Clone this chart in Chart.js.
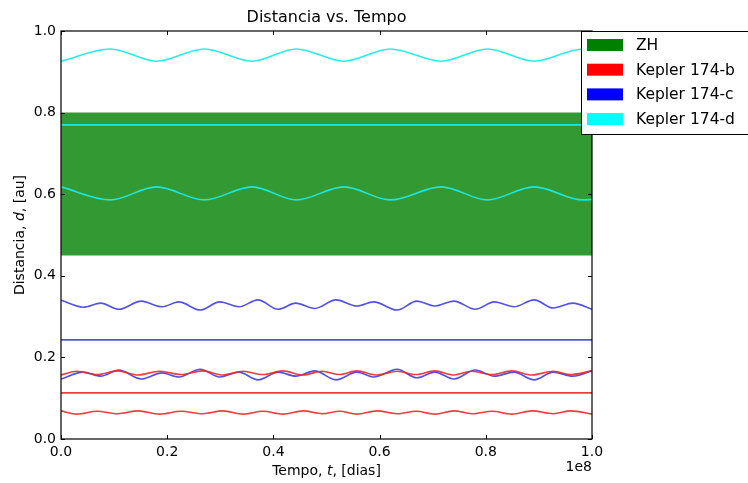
<!DOCTYPE html>
<html>
<head>
<meta charset="utf-8">
<script src="https://cdn.jsdelivr.net/npm/chart.js@4/dist/chart.umd.min.js"></script>
<style>
  body { margin: 0; background: #fff; }
  #wrap { width: 748px; height: 483px; }
</style>
</head>
<body>
<div id="wrap"><canvas id="chart" width="748" height="483"></canvas></div>
<script>
// ── data (x in units of 1e8 dias, y in au) ─────────────────────────
const xTicks = [0, 0.2, 0.4, 0.6, 0.8, 1.0];
const yTicks = [0, 0.2, 0.4, 0.6, 0.8, 1.0];

const zhInner = 0.45;
const zhOuter = 0.80;

// Kepler 174-b (red)
const xRed     = [0, 0.030, 0.068, 0.107, 0.145, 0.186, 0.226, 0.267, 0.305, 0.343, 0.380, 0.418, 0.456, 0.492,
                  0.525, 0.557, 0.595, 0.633, 0.669, 0.704, 0.740, 0.774, 0.812, 0.849, 0.887, 0.927, 0.960, 1.0];
const redLower = [0.069, 0.061, 0.068, 0.062, 0.069, 0.061, 0.068, 0.062, 0.069, 0.061, 0.068, 0.061, 0.069, 0.062,
                  0.068, 0.061, 0.069, 0.062, 0.068, 0.061, 0.069, 0.062, 0.068, 0.061, 0.069, 0.062, 0.069, 0.061];
const redUpper = [0.157, 0.166, 0.158, 0.167, 0.157, 0.166, 0.158, 0.167, 0.157, 0.166, 0.158, 0.167, 0.157, 0.166,
                  0.158, 0.167, 0.157, 0.166, 0.158, 0.167, 0.157, 0.166, 0.158, 0.167, 0.157, 0.166, 0.158, 0.167];
const redMean  = 0.113;

// Kepler 174-c (blue)
const xBlue     = [0, 0.042, 0.075, 0.109, 0.151, 0.190, 0.222, 0.262, 0.299, 0.335, 0.371, 0.409, 0.442, 0.478,
                   0.518, 0.557, 0.589, 0.633, 0.670, 0.704, 0.740, 0.780, 0.816, 0.853, 0.891, 0.927, 0.964, 1.0];
const blueLower = [0.147, 0.164, 0.154, 0.169, 0.147, 0.162, 0.152, 0.171, 0.152, 0.164, 0.145, 0.164, 0.154, 0.167,
                   0.145, 0.164, 0.152, 0.171, 0.150, 0.164, 0.147, 0.169, 0.154, 0.164, 0.145, 0.164, 0.154, 0.167];
const blueUpper = [0.340, 0.323, 0.333, 0.318, 0.338, 0.324, 0.336, 0.316, 0.336, 0.324, 0.341, 0.318, 0.333, 0.320,
                   0.341, 0.326, 0.336, 0.316, 0.338, 0.326, 0.338, 0.318, 0.336, 0.324, 0.341, 0.321, 0.333, 0.318];
const blueMean  = 0.243;

// Kepler 174-d (cyan)
const xCyan     = [0, 0.093, 0.180, 0.270, 0.360, 0.443, 0.533, 0.620, 0.716, 0.803, 0.891, 0.983, 1.0];
const cyanLower = [0.618, 0.586, 0.618, 0.586, 0.618, 0.586, 0.618, 0.586, 0.618, 0.586, 0.618, 0.586, 0.587];
const cyanUpper = [0.926, 0.956, 0.926, 0.956, 0.926, 0.956, 0.926, 0.956, 0.926, 0.956, 0.926, 0.956, 0.955];
const cyanMean  = 0.770;

// ── helpers ────────────────────────────────────────────────────────
const pts  = (xs, ys) => xs.map((x, i) => ({ x, y: ys[i] }));
const flat = v => [{ x: 0, y: v }, { x: 1, y: v }];

const RED  = 'rgba(235,40,40,0.9)';
const BLUE = 'rgba(50,50,225,0.85)';
const CYAN = 'rgba(30,235,235,0.95)';

function line(data, color) {
  return {
    data, borderColor: color, borderWidth: 1.6, pointRadius: 0,
    fill: false, cubicInterpolationMode: 'monotone', order: 1
  };
}

const FONT = '"DejaVu Sans", sans-serif';

// draw a string made of [text, italic] parts, centered at (cx, cy)
function mixedText(ctx, parts, cx, cy, size) {
  let total = 0;
  parts.forEach(p => {
    ctx.font = (p[1] ? 'italic ' : '') + size + 'px ' + FONT;
    total += ctx.measureText(p[0]).width;
  });
  let x = cx - total / 2;
  ctx.textAlign = 'left';
  ctx.textBaseline = 'middle';
  parts.forEach(p => {
    ctx.font = (p[1] ? 'italic ' : '') + size + 'px ' + FONT;
    ctx.fillText(p[0], x, cy);
    x += ctx.measureText(p[0]).width;
  });
}

// ── frame, inward ticks, titles and legend ─────────────────────────
const decorations = {
  id: 'decorations',
  afterDraw(chart) {
    const { ctx, chartArea: a, scales: { x, y } } = chart;
    ctx.save();
    ctx.strokeStyle = '#000';
    ctx.lineWidth = 1;

    // ticks on all four sides
    ctx.beginPath();
    xTicks.forEach(v => {
      const px = Math.round(x.getPixelForValue(v)) + 0.5;
      ctx.moveTo(px, a.bottom); ctx.lineTo(px, a.bottom - 4);
      ctx.moveTo(px, a.top);    ctx.lineTo(px, a.top + 4);
    });
    yTicks.forEach(v => {
      const py = Math.round(y.getPixelForValue(v)) + 0.5;
      ctx.moveTo(a.left, py);  ctx.lineTo(a.left + 4, py);
      ctx.moveTo(a.right, py); ctx.lineTo(a.right - 4, py);
    });
    ctx.stroke();

    ctx.lineWidth = 1.2;
    ctx.strokeRect(a.left, a.top, a.right - a.left, a.bottom - a.top);

    ctx.fillStyle = '#000';
    // title
    ctx.font = '16px ' + FONT;
    ctx.textAlign = 'center';
    ctx.textBaseline = 'middle';
    ctx.fillText('Distancia vs. Tempo', (a.left + a.right) / 2, 18);

    // x label + offset text
    mixedText(ctx, [['Tempo, ', false], ['t', true], [', [dias]', false]], (a.left + a.right) / 2, 471, 14);
    ctx.font = '14px ' + FONT;
    ctx.textAlign = 'right';
    ctx.fillText('1e8', a.right, 467);

    // y label
    ctx.save();
    ctx.translate(20, (a.top + a.bottom) / 2);
    ctx.rotate(-Math.PI / 2);
    mixedText(ctx, [['Distancia, ', false], ['d', true], [', [au]', false]], 0, 0, 14);
    ctx.restore();

    // legend box
    const lx = 581, ly = 31;
    ctx.fillStyle = '#fff';
    ctx.fillRect(lx, ly, 200, 103);
    ctx.strokeStyle = '#000';
    ctx.lineWidth = 1;
    ctx.strokeRect(lx + 0.5, ly + 0.5, 200, 103);
    const items = [
      ['ZH', '#008000'], ['Kepler 174-b', '#ff0000'],
      ['Kepler 174-c', '#0000ff'], ['Kepler 174-d', '#00ffff']
    ];
    ctx.font = '15.5px ' + FONT;
    ctx.textAlign = 'left';
    ctx.textBaseline = 'middle';
    items.forEach((it, i) => {
      const cy = 45 + i * 24.7;
      ctx.fillStyle = it[1];
      ctx.fillRect(587, cy - 6, 36, 12);
      ctx.fillStyle = '#000';
      ctx.fillText(it[0], 636, cy + 1);
    });
    ctx.restore();
  }
};

// ── chart ──────────────────────────────────────────────────────────
const tickFont = { family: FONT, size: 14 };

new Chart(document.getElementById('chart'), {
  type: 'line',
  data: {
    datasets: [
      { data: flat(zhOuter), borderWidth: 0, pointRadius: 0, fill: '+1',
        backgroundColor: 'rgba(0,128,0,0.8)', order: 10 },
      { data: flat(zhInner), borderWidth: 0, pointRadius: 0, fill: false, order: 10 },
      line(pts(xRed, redLower), RED),
      line(flat(redMean), RED),
      line(pts(xRed, redUpper), RED),
      line(pts(xBlue, blueLower), BLUE),
      line(flat(blueMean), BLUE),
      line(pts(xBlue, blueUpper), BLUE),
      line(pts(xCyan, cyanLower), CYAN),
      line(flat(cyanMean), CYAN),
      line(pts(xCyan, cyanUpper), CYAN)
    ]
  },
  options: {
    responsive: false,
    animation: false,
    layout: { padding: { left: 0, right: 156, top: 31, bottom: 0 } },
    plugins: { legend: { display: false }, tooltip: { enabled: false } },
    scales: {
      x: {
        type: 'linear', min: 0, max: 1,
        afterFit: s => { s.height = 44; },
        grid: { display: false, drawTicks: false },
        border: { display: false },
        ticks: { stepSize: 0.2, padding: 5, color: '#000', font: tickFont,
                 maxRotation: 0, callback: v => v.toFixed(1) }
      },
      y: {
        min: 0, max: 1,
        afterFit: s => { s.width = 61; },
        grid: { display: false, drawTicks: false },
        border: { display: false },
        ticks: { stepSize: 0.2, padding: 5, color: '#000', font: tickFont,
                 callback: v => v.toFixed(1) }
      }
    }
  },
  plugins: [decorations]
});
</script>
</body>
</html>
